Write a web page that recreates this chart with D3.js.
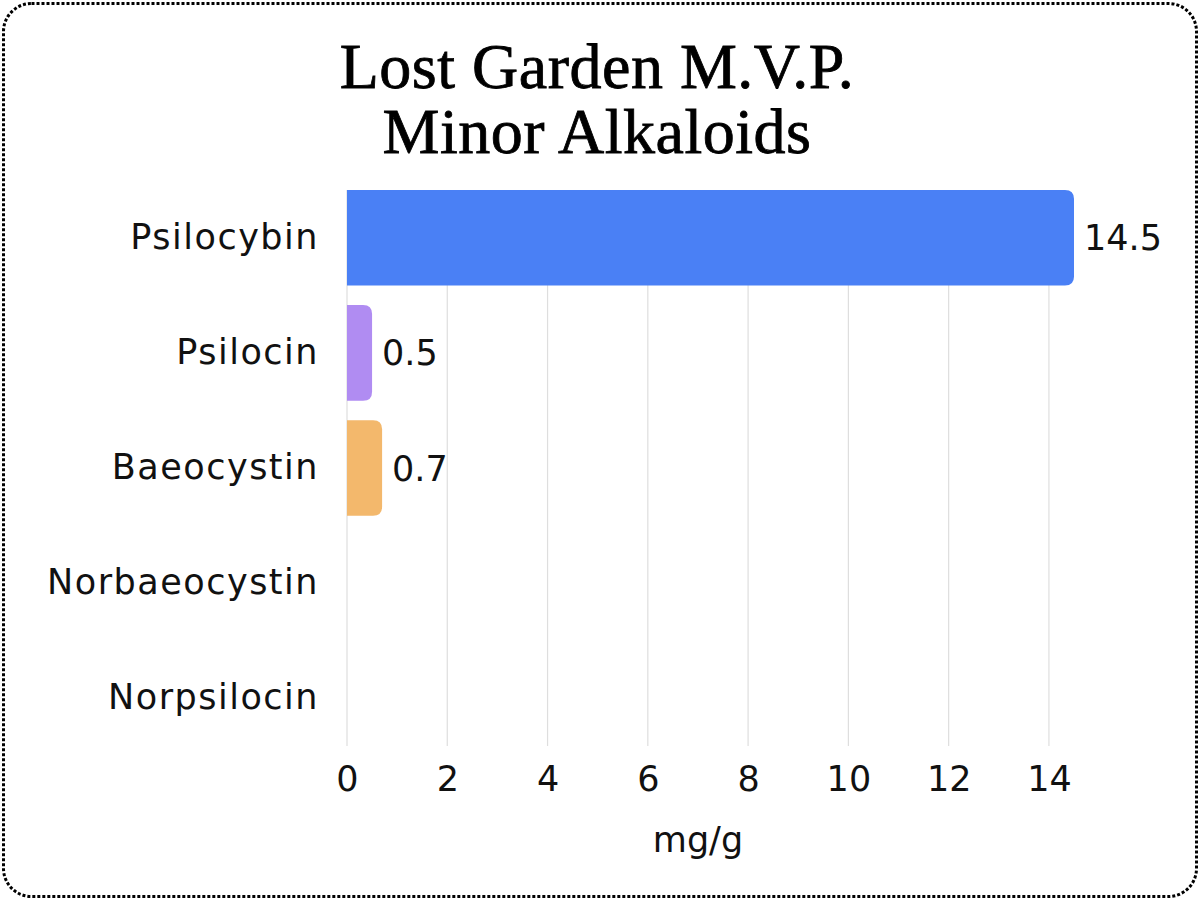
<!DOCTYPE html>
<html>
<head>
<meta charset="utf-8">
<script src="https://cdn.jsdelivr.net/npm/d3@7"></script>
<style>
  body { margin: 0; background: #fff; }
  svg { display: block; }
</style>
</head>
<body>
<svg id="chart" width="1200" height="900"></svg>
<script>
const titleLines = ["Lost Garden M.V.P.", "Minor Alkaloids"];
const compounds = ["Psilocybin", "Psilocin", "Baeocystin", "Norbaeocystin", "Norpsilocin"];
const amounts = [14.5, 0.5, 0.7, 0, 0];
const barColors = ["#4a80f5", "#b08cf2", "#f3b86c", "#e46c6c", "#6cc8a0"];
const xTicks = [0, 2, 4, 6, 8, 10, 12, 14];
const xLabel = "mg/g";

const data = compounds.map((c, i) => ({ name: c, value: amounts[i], color: barColors[i] }));

const svg = d3.select("#chart");
const width = 1200;
const height = 900;
const margin = { top: 190, right: 126, bottom: 154, left: 347 };
const chartWidth = width - margin.left - margin.right;
const chartHeight = height - margin.top - margin.bottom;
const sans = "'DejaVu Sans', 'Open Sans', sans-serif";
const labelSize = "35px";

// dotted frame
svg.append("rect")
    .attr("x", 3.5).attr("y", 3.5)
    .attr("width", width - 7).attr("height", height - 7)
    .attr("rx", 28)
    .attr("fill", "none")
    .attr("stroke", "#000")
    .attr("stroke-width", 3)
    .attr("stroke-dasharray", "3,2");

// title
svg.append("text")
    .attr("x", 597)
    .attr("text-anchor", "middle")
    .style("font-family", "'Liberation Serif', 'DejaVu Serif', serif")
    .style("font-size", "64px")
    .style("font-weight", "normal")
    .style("letter-spacing", "0.5px")
    .style("stroke", "#000")
    .style("stroke-width", "0.8px")
    .selectAll("tspan")
    .data(titleLines)
    .enter()
    .append("tspan")
    .attr("x", 597)
    .attr("y", (d, i) => 88 + i * 65)
    .text(d => d);

const g = svg.append("g")
    .attr("transform", `translate(${margin.left},${margin.top})`);

// scales
const x = d3.scaleLinear()
    .domain([0, 14.5])
    .range([0, chartWidth]);

const y = d3.scaleBand()
    .domain(compounds)
    .range([0, chartHeight])
    .paddingInner(0.17)
    .paddingOuter(0);

// grid
g.selectAll(".grid")
    .data(xTicks)
    .enter()
    .append("line")
    .attr("x1", d => x(d)).attr("x2", d => x(d))
    .attr("y1", 0).attr("y2", chartHeight)
    .attr("stroke", "#dedede")
    .attr("stroke-width", 1.2);

// bars, rounded on the right end only
const r = 9;
g.selectAll(".bar")
    .data(data.filter(d => d.value > 0))
    .enter()
    .append("path")
    .attr("fill", d => d.color)
    .attr("d", d => {
        const x0 = x(0), x1 = x(d.value), y0 = y(d.name), h = y.bandwidth();
        const rr = Math.min(r, (x1 - x0) / 2);
        return `M${x0},${y0}H${x1 - rr}Q${x1},${y0} ${x1},${y0 + rr}` +
            `V${y0 + h - rr}Q${x1},${y0 + h} ${x1 - rr},${y0 + h}H${x0}Z`;
    });

// value labels
g.selectAll(".val")
    .data(data.filter(d => d.value > 0))
    .enter()
    .append("text")
    .attr("x", d => x(d.value) + 10)
    .attr("y", d => y(d.name) + y.bandwidth() / 2)
    .attr("dy", "0.36em")
    .style("font-family", sans)
    .style("font-size", labelSize)
    .attr("fill", "#111")
    .text(d => d.value);

// y-axis labels
const yAxis = g.append("g")
    .call(d3.axisLeft(y).tickSize(0).tickPadding(28));
yAxis.select(".domain").remove();
yAxis.selectAll("text")
    .style("font-family", sans)
    .style("font-size", labelSize)
    .style("letter-spacing", "1.5px")
    .attr("fill", "#111");

// x-axis labels
const xAxis = g.append("g")
    .attr("transform", `translate(0,${chartHeight})`)
    .call(d3.axisBottom(x).tickValues(xTicks).tickSize(0).tickPadding(20));
xAxis.select(".domain").remove();
xAxis.selectAll("text")
    .style("font-family", sans)
    .style("font-size", labelSize)
    .attr("fill", "#111");

g.append("text")
    .attr("x", x(7))
    .attr("y", chartHeight + 106)
    .attr("text-anchor", "middle")
    .style("font-family", sans)
    .style("font-size", labelSize)
    .attr("fill", "#111")
    .text(xLabel);
</script>
</body>
</html>
